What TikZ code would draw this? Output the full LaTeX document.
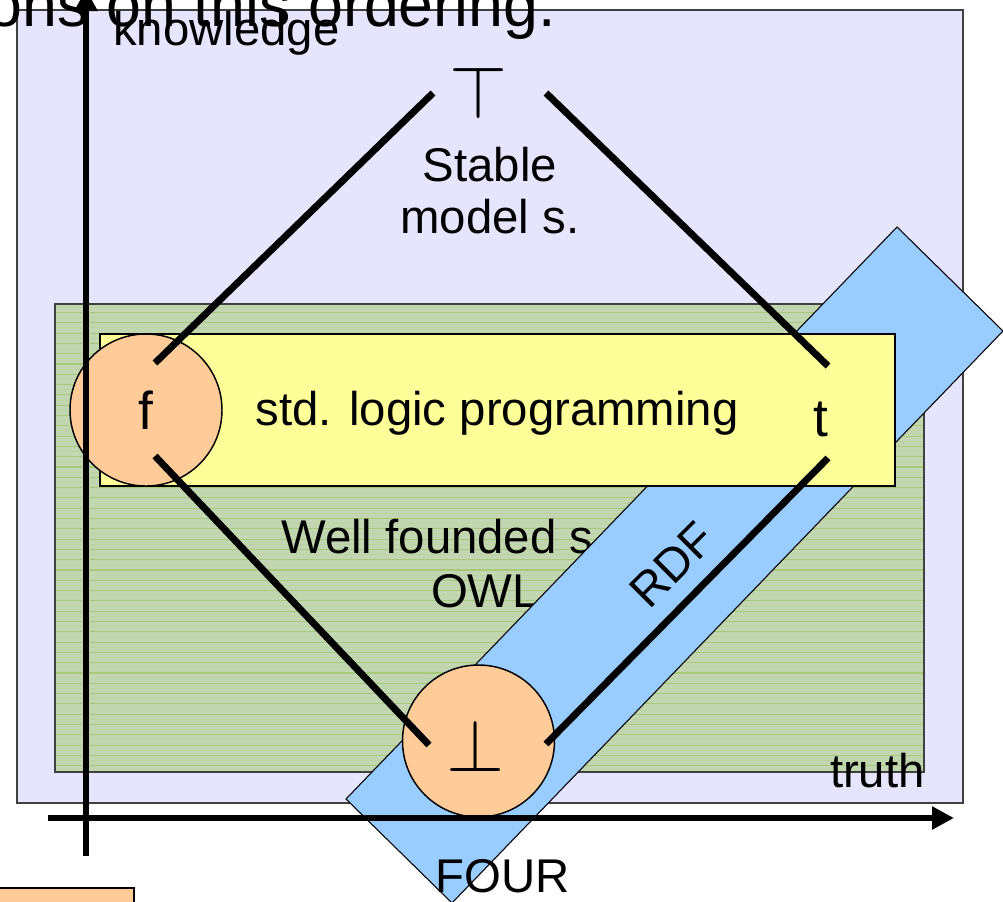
\documentclass[tikz,border=0pt]{standalone}
\usepackage{fontspec}
\setmainfont{Liberation Sans}
\usepackage{graphicx}
\usetikzlibrary{arrows.meta}

\definecolor{lavender}{RGB}{229,229,253}
\definecolor{meadow}{RGB}{194,214,178}
\definecolor{meadowline}{RGB}{166,202,122}
\definecolor{lemon}{RGB}{255,255,153}
\definecolor{peach}{RGB}{255,204,153}
\definecolor{sky}{RGB}{153,204,255}

\begin{document}
\begin{tikzpicture}[x=0.75pt,y=-0.75pt,
  txt/.style={font=\fontsize{35.5}{38.5}\selectfont, inner sep=0pt},
  bigtxt/.style={font=\fontsize{47}{52}\selectfont, inner sep=0pt},
  region/.style={draw=black!75, line width=1pt},
  vcircle/.style={circle, draw=black, line width=1.1pt, fill=peach,
    minimum size=114pt, inner sep=0pt, font=\fontsize{40}{40}\selectfont},
  order/.style={line width=5.2pt},
  axis/.style={line width=5.2pt, -{Triangle[length=16.5pt,width=16.5pt]}},
  stripe/.style={meadowline, line width=0.8pt}
]
\useasboundingbox (0,0) rectangle (1003,901);
\clip (0,0) rectangle (1003,901);

% outer region
\draw[region, fill=lavender] (17,10) rectangle (963,803);

% slide title, running off the top edge
\node[bigtxt, anchor=base east] (title) at (556,26) {ons on this ordering.};

% well-founded region with horizontal hatching
\fill[meadow] (55,304) rectangle (924,772);
\begin{scope}
  \clip (55,304) rectangle (924,772);
  \foreach \k in {0,...,46} {
    \draw[stripe] (55,{302.2+10.3*\k}) -- (924,{302.2+10.3*\k});
    \draw[stripe, opacity=0.2] (55,{307.35+10.3*\k}) -- (924,{307.35+10.3*\k});
  }
\end{scope}
\draw[region] (55,304) rectangle (924,772);

\node[txt, anchor=base west] (wf) at (281,553) {Well founded s.};
\node[txt, anchor=base] (owl) at (485,607) {OWL};

% RDF band
\coordinate (b1) at (897,227);
\coordinate (b2) at (1003,331);
\coordinate (b3) at (452,903);
\coordinate (b4) at (346,799);
\draw[fill=sky, line width=0.8pt] (b1) -- (b2) -- (b3) -- (b4) -- cycle;
\node[txt, rotate=45] (rdf) at (672,565) {RDF};

% standard logic programming strip
\draw[fill=lemon, line width=1.1pt] (100,334) rectangle (895,486);
\node[txt, anchor=base] (slp) at (497,425) {std. logic programming};

% truth values
\node[vcircle] (f) at (146,410) {f};
\node[font=\fontsize{40}{40}\selectfont, inner sep=0pt, anchor=base] (t) at (821,436) {t};
\node[inner sep=0pt] (top) at (479,93) {\scalebox{5.6}{$\top$}};
\node[vcircle] (bot) at (478.5,741) {};
\node[inner sep=0pt] (botsym) at (476,746) {\scalebox{5.6}{$\bot$}};

% ends of the ordering edges
\coordinate (f-up) at (155,363);
\coordinate (f-dn) at (155,456);
\coordinate (t-up) at (828,366);
\coordinate (t-dn) at (828,458);
\coordinate (top-l) at (433,93);
\coordinate (top-r) at (546,93);
\coordinate (bot-l) at (429,745);
\coordinate (bot-r) at (546,744);

\draw[order] (f-up) -- (top-l);
\draw[order] (top-r) -- (t-up);
\draw[order] (f-dn) -- (bot-l);
\draw[order] (t-dn) -- (bot-r);

% label of the stable-model region
\node[txt, anchor=base, align=center] (stable) at (490,233) {Stable\\model s.};

% axes
\coordinate (kx0) at (86,856);
\coordinate (kx1) at (86,-11);
\coordinate (tx0) at (48,818);
\coordinate (tx1) at (954,818);
\draw[axis] (kx0) -- (kx1);
\draw[axis] (tx0) -- (tx1);
\node[txt, anchor=base west] (knowledge) at (113,45) {knowledge};
\node[txt, anchor=base east] (truth) at (925,787) {truth};
\node[txt, anchor=base west] (four) at (435,892) {FOUR};

% box at the lower left
\draw[fill=peach, line width=1.1pt] (-5,888) rectangle (134,910);
\end{tikzpicture}
\end{document}
